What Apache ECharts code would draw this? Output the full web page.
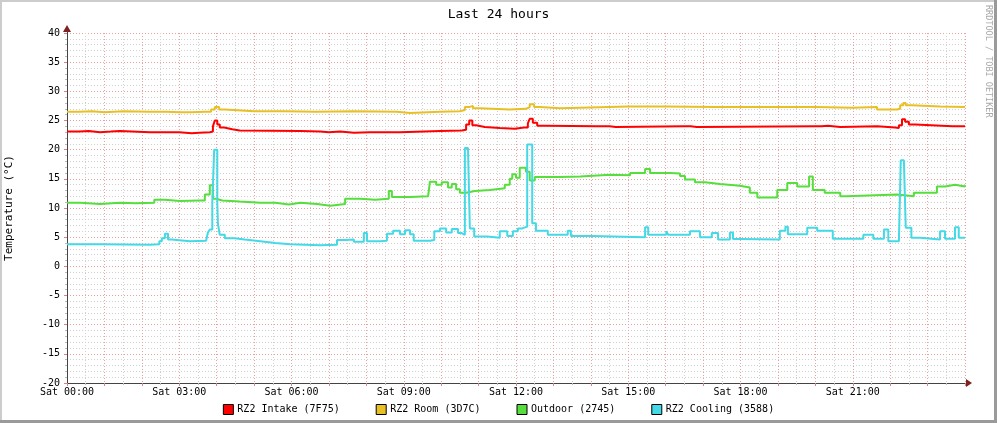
<!DOCTYPE html>
<html>
<head>
<meta charset="utf-8">
<script src="https://cdn.jsdelivr.net/npm/echarts@6/dist/echarts.min.js"></script>
<style>
html,body{margin:0;padding:0;background:#fff;}
#c{width:997px;height:423px;}
</style>
</head>
<body>
<div id="c"></div>
<script>
// time in minutes since Sat 00:00, value in °C
const seriesNames = ['RZ2 Intake (7F75)', 'RZ2 Room (3D7C)', 'Outdoor (2745)', 'RZ2 Cooling (3588)'];
const seriesColors = ['#ff0000', '#e8c024', '#55de3c', '#44d9e6'];

const intake = [
  [0,23.1],[20,23.2],[35,23.0],[53,23.1],[70,23.2],[85,23.0],[133,23.0],[180,22.8],[200,22.9],[212,23.0],[229,23.1],
  [234,24.0],[237,25.0],[241,24.3],[245,23.8],[252,23.5],[265,23.3],[277,23.2],[374,23.1],[406,23.0],[420,23.1],
  [438,22.9],[460,23.0],[486,23.0],[534,23.2],[598,23.3],[633,23.4],[640,24.3],[645,25.0],[650,24.2],[656,23.9],
  [670,23.7],[694,23.6],[718,23.8],[733,23.8],[739,24.5],[742,25.3],[747,24.6],[754,24.1],[767,24.0],[850,24.0],
  [870,23.9],[880,24.0],[990,24.0],[1000,23.9],[1010,24.0],[1200,24.0],[1210,24.1],[1220,23.9],[1240,24.0],
  [1299,23.8],[1328,23.7],[1334,24.2],[1339,25.2],[1344,24.8],[1350,24.3],[1360,24.0],[1420,24.0],[1440,23.9]
];
const room = [
  [0,26.5],[20,26.6],[40,26.4],[60,26.6],[90,26.5],[133,26.5],[160,26.4],[181,26.4],[200,26.5],[221,26.5],
  [231,26.9],[237,27.3],[244,26.9],[253,26.6],[300,26.6],[350,26.5],[400,26.6],[460,26.5],[529,26.3],[550,26.5],
  [598,26.6],[630,26.8],[638,27.3],[645,27.5],[651,27.1],[662,26.9],[710,27.0],[736,27.3],[742,27.8],[749,27.3],
  [758,27.1],[791,27.2],[823,27.4],[900,27.4],[960,27.3],[1040,27.3],[1100,27.3],[1200,27.2],[1260,27.3],
  [1299,26.9],[1331,27.0],[1336,27.6],[1341,28.0],[1345,27.6],[1355,27.4],[1400,27.3],[1440,27.3]
];
const outdoor = [
  [0,10.9],[21,10.7],[53,10.9],[85,10.8],[110,10.9],[140,11.4],[157,11.2],[181,11.3],[213,11.3],[221,12.3],
  [229,13.9],[234,11.6],[239,11.3],[249,11.1],[277,10.9],[310,10.9],[334,10.6],[356,10.9],[374,10.7],[401,10.4],
  [422,10.7],[446,11.6],[470,11.4],[494,11.6],[516,12.9],[521,11.9],[550,12.0],[579,12.2],[582,14.5],[592,14.0],
  [601,14.4],[611,13.5],[617,14.1],[624,13.2],[630,12.6],[640,12.9],[654,13.1],[678,13.4],[702,14.0],[710,15.0],
  [714,15.8],[720,15.2],[726,16.9],[736,16.2],[742,14.7],[750,15.3],[791,15.4],[823,15.7],[871,15.6],[903,16.0],
  [927,16.7],[935,16.0],[967,15.9],[983,15.5],[991,14.9],[1007,14.4],[1023,14.1],[1047,13.8],[1079,13.5],
  [1095,12.6],[1107,11.8],[1139,13.1],[1155,14.3],[1171,13.7],[1190,15.4],[1196,13.1],[1215,12.6],[1240,12.0],
  [1250,12.3],[1331,12.0],[1358,12.6],[1395,13.7],[1408,14.0],[1424,13.7],[1440,13.9]
];
const cooling = [
  [0,3.8],[53,3.7],[133,3.8],[148,4.3],[152,4.8],[157,5.6],[162,4.6],[168,4.3],[197,4.4],[223,4.4],[226,5.8],
  [229,6.3],[233,11.0],[236,20.0],[239,20.0],[241,11.0],[242,7.3],[245,5.4],[253,4.8],[269,4.6],[285,4.3],
  [310,4.0],[334,3.8],[358,3.6],[406,3.7],[433,4.5],[446,4.6],[460,4.2],[476,5.7],[481,4.3],[502,4.4],[513,5.6],
  [523,6.1],[534,5.5],[542,6.2],[550,5.5],[556,4.4],[582,4.5],[589,6.0],[598,6.5],[608,5.8],[617,6.4],[627,5.7],
  [633,5.4],[638,20.3],[643,20.3],[646,6.5],[653,5.1],[674,4.9],[694,6.0],[706,5.2],[715,6.0],[723,6.5],
  [730,6.8],[738,20.9],[742,20.9],[746,7.4],[752,6.1],[771,5.4],[803,6.1],[808,5.2],[842,5.0],[927,6.7],
  [932,5.4],[961,6.0],[964,5.4],[999,6.0],[1015,5.0],[1034,5.7],[1044,4.6],[1063,5.8],[1068,4.7],[1079,4.6],
  [1143,6.1],[1152,6.8],[1156,5.5],[1187,6.6],[1203,6.1],[1228,4.75],[1277,5.4],[1293,4.75],[1310,6.3],
  [1317,4.3],[1334,4.3],[1337,18.2],[1342,18.2],[1345,6.6],[1354,4.9],[1368,4.6],[1400,6.0],[1408,4.75],
  [1424,6.7],[1430,4.9],[1440,4.9]
];
const seriesData = [intake, room, outdoor, cooling];

const yMin = -20, yMax = 40, yStep = 5;
const xMin = 0, xMax = 1440, xStep = 60, xLabelEvery = 180;
const titleText = 'Last 24 hours';
const yTitle = 'Temperature (°C)';
const watermark = 'RRDTOOL / TOBI OETIKER';
const dayLabel = 'Sat';

const FONT = '"DejaVu Sans Mono", monospace';
const chart = echarts.init(document.getElementById('c'), null, {renderer: 'canvas'});

function pad(n){return (n<10?'0':'')+n;}

const gridL = 67, gridR = 32, gridT = 33, gridB = 40;

chart.setOption({
  backgroundColor: '#ffffff',
  animation: false,
  title: {
    text: titleText, left: 'center', top: 3,
    textStyle: {fontFamily: FONT, fontSize: 13, fontWeight: 'normal', color: '#000'}
  },
  legend: {
    bottom: 3, left: 'center', itemWidth: 10, itemHeight: 10, itemGap: 36,
    icon: 'rect',
    data: seriesNames.map((n, i) => ({name: n, itemStyle: {color: seriesColors[i], borderColor: '#000', borderWidth: 1}})),
    textStyle: {fontFamily: FONT, fontSize: 10, color: '#000', padding: [0,0,0,-1]}
  },
  grid: {left: gridL, right: gridR, top: gridT, bottom: gridB, containLabel: false, outerBoundsMode: 'none'},
  xAxis: {
    type: 'value', min: xMin, max: xMax, interval: xStep,
    axisLine: {show: true, onZero: false, lineStyle: {color: '#444', width: 1}},
    axisTick: {show: true, length: 3, lineStyle: {color: '#e08080'}},
    minorTick: {show: true, splitNumber: 2, length: 2, lineStyle: {color: '#bbb'}},
    axisLabel: {
      fontFamily: FONT, fontSize: 10, color: '#000', margin: 4, showMaxLabel: false,
      formatter: v => (v % xLabelEvery === 0 && v < xMax) ? dayLabel + ' ' + pad(Math.floor(v/60)) + ':' + pad(v%60) : ''
    },
    splitLine: {show: true, lineStyle: {color: '#e8a0a0', type: [1,2], width: 1}},
    minorSplitLine: {show: true, lineStyle: {color: '#d0d0d0', type: [1,2], width: 1}}
  },
  yAxis: {
    type: 'value', min: yMin, max: yMax, interval: yStep,
    name: yTitle, nameLocation: 'middle', nameGap: 52, nameRotate: 90,
    nameTextStyle: {fontFamily: FONT, fontSize: 11, color: '#000'},
    axisLine: {show: true, onZero: false, lineStyle: {color: '#444', width: 1}},
    axisTick: {show: true, length: 3, lineStyle: {color: '#e08080'}},
    minorTick: {show: true, splitNumber: 5, length: 2, lineStyle: {color: '#bbb'}},
    axisLabel: {fontFamily: FONT, fontSize: 10, color: '#000', margin: 7},
    splitLine: {show: true, lineStyle: {color: '#e8a0a0', type: [1,2], width: 1}},
    minorSplitLine: {show: true, lineStyle: {color: '#d0d0d0', type: [1,2], width: 1}}
  },
  series: seriesNames.map((n, i) => ({
    name: n, type: 'line', step: 'end', data: seriesData[i],
    showSymbol: false, symbol: 'none',
    lineStyle: {color: seriesColors[i], width: 2},
    itemStyle: {color: seriesColors[i]},
    z: 3
  })),
  graphic: [
    {type: 'rect', left: 0, top: 0, shape: {width: 997, height: 2}, style: {fill: '#cccccc'}, silent: true},
    {type: 'rect', left: 0, top: 0, shape: {width: 2, height: 423}, style: {fill: '#cccccc'}, silent: true},
    {type: 'rect', left: 0, top: 420, shape: {width: 997, height: 3}, style: {fill: '#9a9a9a'}, silent: true},
    {type: 'rect', left: 994, top: 0, shape: {width: 3, height: 423}, style: {fill: '#9a9a9a'}, silent: true},
    {type: 'polygon', shape: {points: [[966, 379], [972, 383], [966, 387]]}, style: {fill: '#802020'}, silent: true},
    {type: 'line', shape: {x1: 965, y1: 383.5, x2: 967, y2: 383.5}, style: {stroke: '#444'}, silent: true},
    {type: 'polygon', shape: {points: [[63, 32], [67, 25], [71, 32]]}, style: {fill: '#802020'}, silent: true},
    {type: 'line', shape: {x1: 67.5, y1: 31, x2: 67.5, y2: 33}, style: {stroke: '#444'}, silent: true},
    {type: 'text', x: 993, y: 5, rotation: -Math.PI/2,
      style: {text: watermark, fontFamily: FONT, fontSize: 8.5, fill: '#a8a8a8', align: 'left', verticalAlign: 'top'}, silent: true}
  ]
});
</script>
</body>
</html>
